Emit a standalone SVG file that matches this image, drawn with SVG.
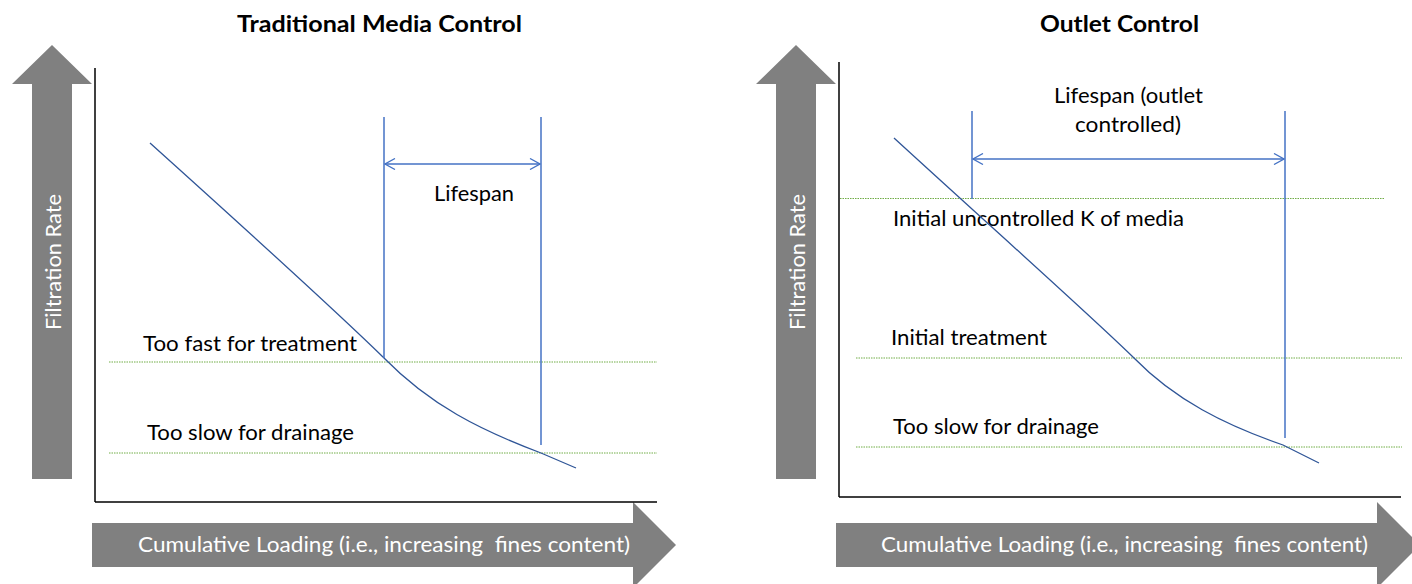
<svg xmlns="http://www.w3.org/2000/svg" width="1412" height="584" viewBox="0 0 1412 584">
  <style>
    text { font-family: Lato, "Liberation Sans", sans-serif; font-size: 21px; fill: #000; }
    .title { font-weight: bold; font-size: 23px; }
    .axislabel { fill: #fff; font-size: 21px; }
    .bigarrow { fill: #808080; }
    .axis { stroke: #000; stroke-width: 1.6; fill: none; }
    .yaxis { stroke: #404040; stroke-width: 2; fill: none; }
    .limit { stroke: #70AD47; stroke-width: 1; stroke-dasharray: 1.5 1; fill: none; }
    .curve { stroke: #2F5597; stroke-width: 1.3; fill: none; }
    .marker-line { stroke: #4472C4; stroke-width: 1.5; fill: none; }
    .span { stroke: #4472C4; stroke-width: 1.5; fill: none; marker-start: url(#chev); marker-end: url(#chev); }
  </style>
  <defs>
    <marker id="chev" viewBox="0 0 12 12" refX="11" refY="6" markerWidth="12" markerHeight="12" markerUnits="userSpaceOnUse" orient="auto-start-reverse">
      <path d="M1,0.5 L11,6 L1,11.5" fill="none" stroke="#4472C4" stroke-width="1.3"/>
    </marker>
  </defs>

  <!-- Left chart: traditional media control -->
  <g id="left-chart">
    <g id="left-title">
      <text class="title" x="237" y="32" textLength="285" lengthAdjust="spacingAndGlyphs">Traditional Media Control</text>
    </g>
    <g id="left-y-arrow">
      <path class="bigarrow" d="M52,45 L92,84 L72,84 L72,479 L32,479 L32,84 L12,84 Z"/>
      <text class="axislabel" transform="translate(61,330) rotate(-90)" textLength="136" lengthAdjust="spacingAndGlyphs">Filtration Rate</text>
    </g>
    <g id="left-x-arrow">
      <path class="bigarrow" d="M92,523 L633,523 L633,502 L676,545 L633,588 L633,567 L92,567 Z"/>
      <text class="axislabel" x="138" y="552" xml:space="preserve" textLength="492" lengthAdjust="spacingAndGlyphs">Cumulative Loading (i.e., increasing  fines content)</text>
    </g>
    <g id="left-axes">
      <path class="yaxis" d="M95,68 L95,502"/>
      <path class="axis" d="M95,502 L657,502"/>
    </g>
    <g id="left-limits">
      <path class="limit" d="M109,362 L657,362"/>
      <path class="limit" d="M109,453 L657,453"/>
      <text x="143" y="351" textLength="214" lengthAdjust="spacingAndGlyphs">Too fast for treatment</text>
      <text x="147" y="440" textLength="207" lengthAdjust="spacingAndGlyphs">Too slow for drainage</text>
    </g>
    <g id="left-lifespan">
      <text x="434" y="201" textLength="80" lengthAdjust="spacingAndGlyphs">Lifespan</text>
    </g>
  </g>

  <!-- Right chart: outlet control -->
  <g id="right-chart">
    <g id="right-title">
      <text class="title" x="1040" y="32" textLength="159" lengthAdjust="spacingAndGlyphs">Outlet Control</text>
    </g>
    <g id="right-y-arrow">
      <path class="bigarrow" d="M796,45 L836,84 L816,84 L816,479 L776,479 L776,84 L756,84 Z"/>
      <text class="axislabel" transform="translate(805,330) rotate(-90)" textLength="136" lengthAdjust="spacingAndGlyphs">Filtration Rate</text>
    </g>
    <g id="right-x-arrow">
      <path class="bigarrow" d="M836,523 L1377,523 L1377,502 L1420,545 L1377,588 L1377,567 L836,567 Z"/>
      <text class="axislabel" x="881" y="552" xml:space="preserve" textLength="487" lengthAdjust="spacingAndGlyphs">Cumulative Loading (i.e., increasing  fines content)</text>
    </g>
    <g id="right-axes">
      <path class="yaxis" d="M839,62 L839,497"/>
      <path class="axis" d="M839,497 L1401,497"/>
    </g>
    <g id="right-limits">
      <path class="limit" d="M840,198.5 L1385,198.5"/>
      <path class="limit" d="M856,358 L1402,358"/>
      <path class="limit" d="M856,447 L1402,447"/>
      <text x="893" y="226" textLength="291" lengthAdjust="spacingAndGlyphs">Initial uncontrolled K of media</text>
      <text x="891" y="345" textLength="156" lengthAdjust="spacingAndGlyphs">Initial treatment</text>
      <text x="893" y="434" textLength="206" lengthAdjust="spacingAndGlyphs">Too slow for drainage</text>
    </g>
    <g id="right-lifespan">
      <text x="1054" y="103" textLength="149" lengthAdjust="spacingAndGlyphs">Lifespan (outlet</text>
      <text x="1075" y="132" textLength="106" lengthAdjust="spacingAndGlyphs">controlled)</text>
    </g>
  </g>

  <!-- Connectors: loading curves, lifespan bounds and spans -->
  <g id="connectors">
    <path class="curve" d="M150,143 C250,233 340,315 384,358 C430,405 480,430 541,453 L576,468"/>
    <path class="marker-line" d="M384,117 L384,358"/>
    <path class="marker-line" d="M541,117 L541,445"/>
    <path class="span" d="M385,164 L540,164"/>

    <path class="curve" d="M894,138 C1000,235 1090,315 1134,358 C1175,400 1225,425 1283,445 L1319,463"/>
    <path class="marker-line" d="M972,111 L972,199"/>
    <path class="marker-line" d="M1285,111 L1285,438"/>
    <path class="span" d="M973,159 L1284,159"/>
  </g>
</svg>
